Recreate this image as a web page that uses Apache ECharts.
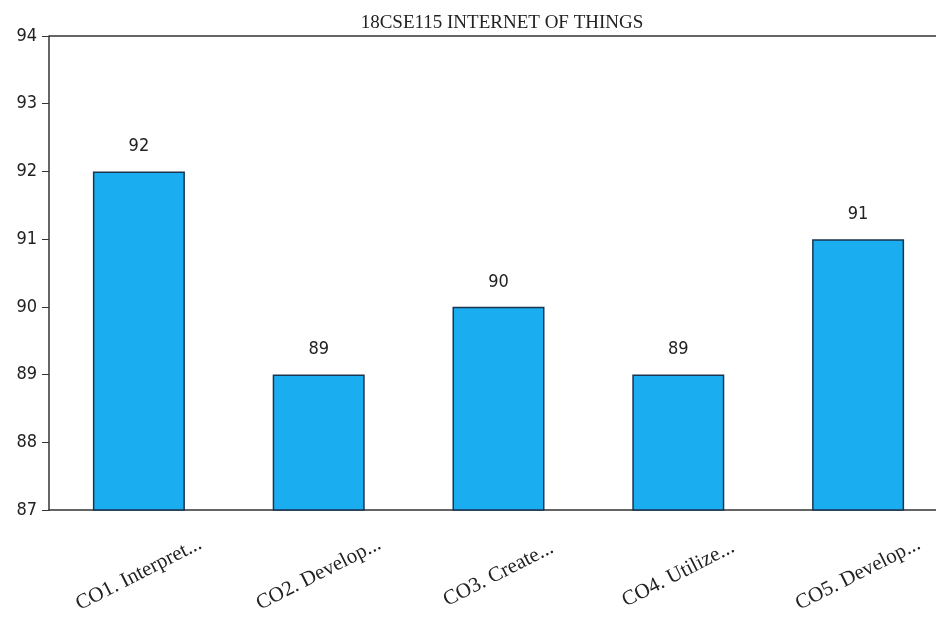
<!DOCTYPE html>
<html><head><meta charset="utf-8">
<script src="https://cdn.jsdelivr.net/npm/echarts@6/dist/echarts.min.js"></script>
<style>html,body{margin:0;padding:0;background:#fff;overflow:hidden}#c{width:960px;height:624px}</style>
</head><body><div id="c"></div>
<script>
const categories = ["CO1. Interpret...", "CO2. Develop...", "CO3. Create...", "CO4. Utilize...", "CO5. Develop..."];
const values = [92, 89, 90, 89, 91];
const yTicks = [87, 88, 89, 90, 91, 92, 93, 94];
const titleText = "18CSE115 INTERNET OF THINGS";

const chart = echarts.init(document.getElementById('c'));
chart.setOption({
  backgroundColor: '#ffffff',
  animation: false,
  title: {
    text: titleText, left: 497, top: 9, textAlign: 'center',
    textStyle: {fontFamily: 'Liberation Serif', fontWeight: 'normal', fontSize: 19, color: '#222'}
  },
  grid: {left: 49, right: 12, top: 36, bottom: 114, show: false},
  xAxis: {
    type: 'category', data: categories,
    axisLine: {lineStyle: {color: '#333', width: 1.5}},
    axisTick: {alignWithLabel: true, length: 8, lineStyle: {color: '#333'}},
    axisLabel: {rotate: 27, align: 'center', verticalAlign: 'middle', margin: 64, interval: 0,
      fontFamily: 'Liberation Serif', fontSize: 21, color: '#222'}
  },
  yAxis: {
    type: 'value', min: yTicks[0], max: yTicks[yTicks.length - 1], interval: 1,
    axisLine: {show: true, lineStyle: {color: '#333', width: 1.5}},
    axisTick: {show: true, length: 7, lineStyle: {color: '#333'}},
    splitLine: {show: false},
    axisLabel: {fontFamily: 'DejaVu Sans Condensed', fontSize: 18, color: '#222', margin: 12}
  },
  series: [{
    type: 'bar', data: values, barWidth: 92,
    itemStyle: {color: '#1AAEF0', borderColor: '#1a3550', borderWidth: 1.5},
    label: {show: true, position: 'top', distance: 16, fontFamily: 'DejaVu Sans Condensed', fontSize: 18, color: '#222'}
  }],
  graphic: [{
    type: 'line', shape: {x1: 49, y1: 36, x2: 948, y2: 36}, style: {stroke: '#333', lineWidth: 1.5}
  }]
});
</script></body></html>
